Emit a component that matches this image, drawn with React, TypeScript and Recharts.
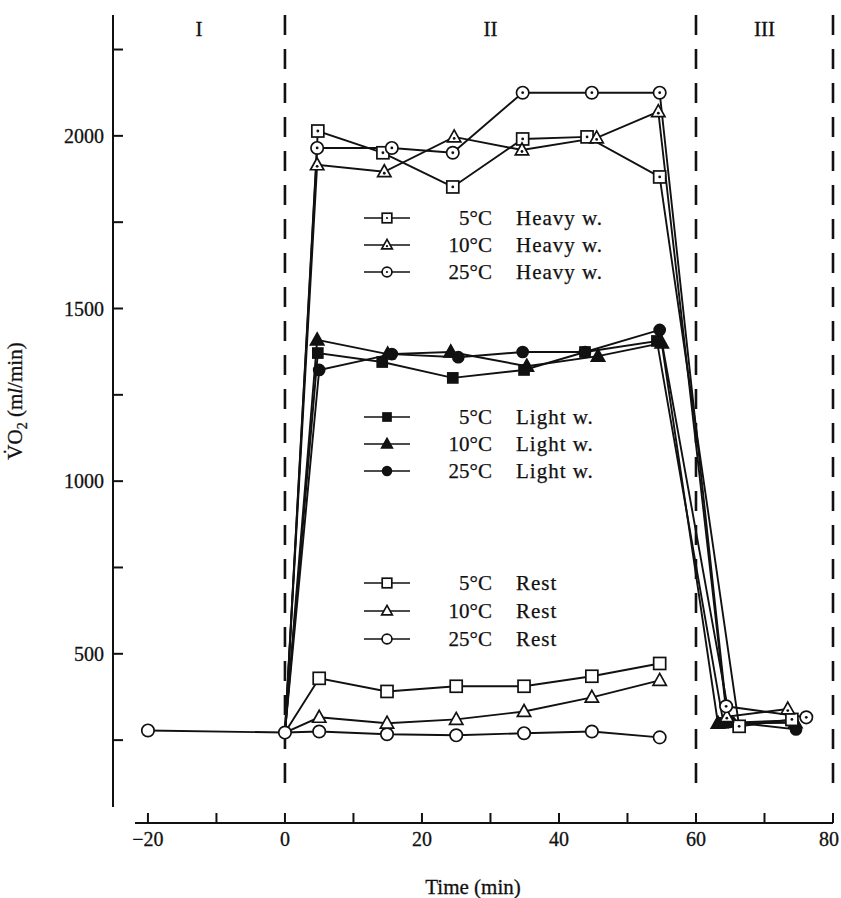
import React from "react";
import { LineChart, Line, XAxis, YAxis, ReferenceLine, ReferenceArea } from "recharts";

const FONT = '"Liberation Serif", "DejaVu Serif", "Times New Roman", serif';
const INK = "#111";

// axis ticks
const timeTicks = [-20, -10, 0, 10, 20, 30, 40, 50, 60, 70, 80];
const vo2Ticks = [250, 500, 750, 1000, 1250, 1500, 1750, 2000, 2250];
const phaseNames = ["I", "II", "III"];
const phaseBounds = [-25.1, 0, 60, 80];

// pre-exercise baseline (shared by all conditions)
const baseTimes = [-20, 0];
const baseVals = [278, 272];

// heavy work
const heavy5Times = [0, 4.8, 14.3, 24.5, 34.7, 44.1, 54.7, 66.3, 74];
const heavy5Vals = [272, 2014, 1951, 1852, 1991, 1997, 1881, 290, 310];
const heavy10Times = [0, 4.7, 14.5, 24.7, 34.6, 45.5, 54.5, 64.5, 73.4];
const heavy10Vals = [272, 1916, 1896, 1997, 1959, 1994, 2070, 318, 340];
const heavy25Times = [0, 4.7, 15.6, 24.5, 34.7, 44.8, 54.7, 64.4, 76.1];
const heavy25Vals = [272, 1965, 1965, 1951, 2125, 2125, 2125, 348, 316];

// light work
const light5Times = [0, 4.8, 14.2, 24.5, 34.9, 43.8, 54.3, 64, 74];
const light5Vals = [272, 1371, 1345, 1299, 1322, 1374, 1406, 300, 307];
const light10Times = [0, 4.7, 15, 24.2, 35.3, 45.7, 55, 63.2, 74.5];
const light10Vals = [272, 1409, 1368, 1374, 1333, 1362, 1400, 299, 300];
const light25Times = [0, 5, 15.6, 25.3, 34.7, 43.8, 54.7, 65, 74.6];
const light25Vals = [272, 1322, 1368, 1359, 1374, 1374, 1438, 303, 281];

// rest
const restTimes = [0, 5, 14.9, 25, 34.9, 44.8, 54.7];
const rest5Vals = [272, 429, 391, 406, 406, 435, 472];
const rest10Vals = [272, 316, 299, 310, 333, 374, 423];
const rest25Vals = [272, 275, 267, 264, 270, 275, 258];

// legend text
const legendTemps = ["5°C", "10°C", "25°C"];
const legendKinds = ["Heavy w.", "Light w.", "Rest"];

const toRows = (ts: number[], vs: number[]) => ts.map((t, i) => ({ t, v: vs[i] }));

const series = [
  { id: "base", rows: toRows(baseTimes, baseVals), shape: "circle", kind: "open" },
  { id: "rest25", rows: toRows(restTimes, rest25Vals), shape: "circle", kind: "open" },
  { id: "rest10", rows: toRows(restTimes, rest10Vals), shape: "triangle", kind: "open" },
  { id: "rest5", rows: toRows(restTimes, rest5Vals), shape: "square", kind: "open" },
  { id: "light5", rows: toRows(light5Times, light5Vals), shape: "square", kind: "filled" },
  { id: "light10", rows: toRows(light10Times, light10Vals), shape: "triangle", kind: "filled" },
  { id: "light25", rows: toRows(light25Times, light25Vals), shape: "circle", kind: "filled" },
  { id: "heavy5", rows: toRows(heavy5Times, heavy5Vals), shape: "square", kind: "dot" },
  { id: "heavy10", rows: toRows(heavy10Times, heavy10Vals), shape: "triangle", kind: "dot" },
  { id: "heavy25", rows: toRows(heavy25Times, heavy25Vals), shape: "circle", kind: "dot" },
];

function Marker({ shape, kind, cx, cy, s = 1 }: any) {
  const fill = kind === "filled" ? INK : "#fff";
  const sw = 1.7;
  let body: React.ReactNode = null;
  if (shape === "square") {
    const h = (kind === "filled" ? 5 : 6) * s;
    body = <rect x={cx - h} y={cy - h} width={2 * h} height={2 * h} fill={fill} stroke={INK} strokeWidth={sw} />;
  } else if (shape === "triangle") {
    const h = 7 * s;
    const pts = `${cx},${cy - h} ${cx + h * 0.95},${cy + h * 0.7} ${cx - h * 0.95},${cy + h * 0.7}`;
    body = <polygon points={pts} fill={fill} stroke={INK} strokeWidth={sw} />;
  } else {
    const r = (kind === "filled" ? 5.5 : 6.2) * s;
    body = <circle cx={cx} cy={cy} r={r} fill={fill} stroke={INK} strokeWidth={sw} />;
  }
  return (
    <g>
      {body}
      {kind === "dot" && <circle cx={cx} cy={shape === "triangle" ? cy + 1.5 * s : cy} r={1.4 * s} fill={INK} />}
    </g>
  );
}

const makeDot = (id: string, shape: string, kind: string) => (p: any) => {
  const key = `${id}-${p.index}`;
  if (id !== "base" && p.payload && p.payload.t === 0) return <g key={key} />;
  return <Marker key={key} shape={shape} kind={kind} cx={p.cx} cy={p.cy} />;
};

const TimeTick = ({ x, y, payload }: any) => {
  const v = payload.value;
  if (v % 20 !== 0) return <g />;
  const txt = v < 0 ? `\u2212${-v}` : `${v}`;
  return (
    <text x={v === 80 ? x + 6 : x} y={y} dy="0.71em" textAnchor={v === 80 ? "end" : "middle"}
      fontFamily={FONT} fontSize={20} fill={INK} stroke={INK} strokeWidth={0.3}>
      {txt}
    </text>
  );
};

const YLabel = ({ viewBox }: any) => {
  const x = viewBox.x + 22;
  const y = viewBox.y + viewBox.height / 2 - 18;
  return (
    <text transform={`translate(${x},${y}) rotate(-90)`} textAnchor="middle" fontFamily={FONT} fontSize={21}
      fill={INK} stroke={INK} strokeWidth={0.3}>
      V̇O<tspan fontSize={14} dy={5}>2</tspan>
      <tspan dy={-5}> (m</tspan>
      <tspan fontStyle="italic">l</tspan>
      <tspan>/min)</tspan>
    </text>
  );
};

// legend overlay rows (page coordinates)
const legendBlocks = [
  { kind: 0, ys: [218, 245, 272], mark: "dot" },
  { kind: 1, ys: [417, 444, 471], mark: "filled" },
  { kind: 2, ys: [583, 611, 639], mark: "open" },
];
const legendShapes = ["square", "triangle", "circle"];

function LegendOverlay() {
  return (
    <svg width={841} height={898} style={{ position: "absolute", left: 0, top: 0, pointerEvents: "none" }}>
      {legendBlocks.map((b) =>
        b.ys.map((y, i) => (
          <g key={`${b.kind}-${i}`}>
            <line x1={364} x2={410} y1={y} y2={y} stroke={INK} strokeWidth={1.4} />
            <Marker shape={legendShapes[i]} kind={b.mark} cx={387} cy={y} s={0.8} />
            <text x={492} y={y + 7} textAnchor="end" fontFamily={FONT} fontSize={21} fill={INK} stroke={INK} strokeWidth={0.25}>
              {legendTemps[i]}
            </text>
            <text x={516} y={y + 7} fontFamily={FONT} fontSize={21} letterSpacing={1} fill={INK} stroke={INK} strokeWidth={0.25}>
              {legendKinds[b.kind]}
            </text>
          </g>
        ))
      )}
    </svg>
  );
}

export default function App() {
  const tickStyle = { fill: INK, fontSize: 20, fontFamily: FONT, stroke: INK, strokeWidth: 0.3 };
  return (
    <div style={{ position: "relative", width: 841, height: 898, background: "#fff" }}>
      <style>{`body{margin:0;background:#fff}`}</style>
      <LineChart width={841} height={898} margin={{ top: 15, right: 8, left: 0, bottom: 0 }}>
        <XAxis
          dataKey="t"
          type="number"
          domain={[-25.1, 80]}
          allowDataOverflow
          ticks={timeTicks}
          interval={0}
          height={75}
          tickSize={-10}
          tickMargin={19}
          axisLine={{ stroke: INK, strokeWidth: 2, strokeDasharray: "0 22 900" }}
          tickLine={{ stroke: INK, strokeWidth: 2 }}
          tick={TimeTick}
          label={{ value: "Time (min)", position: "insideBottom", offset: 4, fill: INK, fontSize: 21, fontFamily: FONT, stroke: INK, strokeWidth: 0.3 }}
        />
        <YAxis
          type="number"
          domain={[10, 2350]}
          allowDataOverflow
          ticks={vo2Ticks}
          interval={0}
          tickFormatter={(v: number) => (v % 500 === 0 ? `${v}` : "")}
          width={113}
          tickSize={-10}
          tickMargin={19}
          axisLine={{ stroke: INK, strokeWidth: 2, strokeDasharray: "792 200" }}
          tickLine={{ stroke: INK, strokeWidth: 2 }}
          tick={tickStyle}
          label={{ content: YLabel }}
        />
        {phaseNames.map((n, i) => (
          <ReferenceArea
            key={n}
            x1={phaseBounds[i]}
            x2={phaseBounds[i + 1]}
            fill="none"
            stroke="none"
            label={{ value: n, position: "insideTop", offset: 6, fill: INK, fontSize: 21, fontFamily: FONT, stroke: INK, strokeWidth: 0.3 }}
          />
        ))}
        {phaseBounds.slice(1).map((x) => (
          <ReferenceLine
            key={x}
            segment={[{ x, y: 2350 }, { x, y: 95 }]}
            stroke={INK}
            strokeWidth={2.6}
            strokeDasharray="20 14"
          />
        ))}
        {series.map((s) => (
          <Line
            key={s.id}
            data={s.rows}
            dataKey="v"
            type="linear"
            stroke={INK}
            strokeWidth={1.9}
            dot={makeDot(s.id, s.shape, s.kind)}
            activeDot={false}
            isAnimationActive={false}
          />
        ))}
      </LineChart>
      <LegendOverlay />
    </div>
  );
}
